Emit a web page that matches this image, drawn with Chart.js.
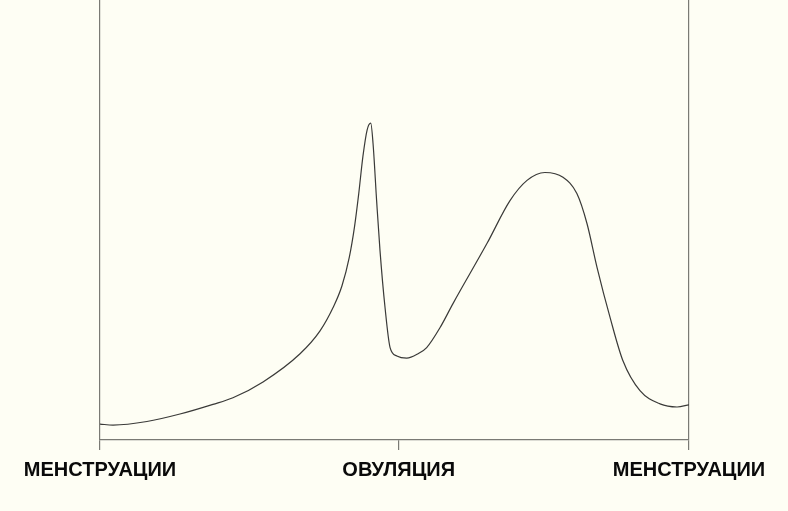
<!DOCTYPE html>
<html>
<head>
<meta charset="utf-8">
<style>
  html, body { margin: 0; padding: 0; background: #fefef4; }
  canvas { display: block; }
</style>
</head>
<body>
<canvas id="myChart" width="788" height="511"></canvas>

<script src="https://cdn.jsdelivr.net/npm/chart.js"></script>
<script>
// cycle day (0..28) and hormone level (0..100, relative)
let cycleDays = [0, 0.62, 2.23, 3.80, 5.37, 6.32, 7.75, 9.51, 10.46, 11.08, 11.50, 11.85, 12.10, 12.30, 12.50, 12.70,
  12.87, 12.98, 13.15, 13.31, 13.55, 13.79, 14.11, 14.58, 15.12, 15.53, 16.16, 16.78, 18.40, 19.49, 20.30,
  21.15, 22.01, 22.67, 23.15, 23.63, 24.25, 24.86, 25.67, 26.62, 27.43, 28];
let levels = [3.6, 3.4, 4.2, 5.9, 8.1, 9.6, 13.2, 19.6, 24.8, 30.1, 35.0, 41.5, 48.5, 56.0, 64.5, 70.5,
  72.0, 67.4, 54.4, 43.1, 30.1, 21.0, 19.1, 18.6, 19.6, 21.0, 25.5, 31.0, 44.7, 54.4, 59.0,
  60.8, 59.7, 56.0, 49.2, 39.2, 27.8, 18.0, 11.2, 8.2, 7.5, 8.0];

let tickDays = [0, 14.2, 28];
let tickLabels = ['МЕНСТРУАЦИИ', 'ОВУЛЯЦИЯ', 'МЕНСТРУАЦИИ'];

let axisColor = '#7a7a74';

let ctx = document.getElementById('myChart').getContext('2d');
let chart = new Chart(ctx, {
    type: 'line',
    data: {
        datasets: [{
            data: cycleDays.map((d, i) => ({ x: d, y: levels[i] })),
            borderColor: '#3a3a38',
            borderWidth: 1.2,
            pointRadius: 0,
            cubicInterpolationMode: 'monotone',
            fill: false
        }]
    },
    options: {
        responsive: false,
        animation: false,
        layout: { padding: { left: 100, right: 99, top: 0, bottom: 21 } },
        plugins: { legend: { display: false }, tooltip: { enabled: false } },
        scales: {
            x: {
                type: 'linear',
                min: 0,
                max: 28,
                afterBuildTicks: (scale) => {
                    scale.ticks = tickDays.map(v => ({ value: v }));
                },
                grid: {
                    color: (c) => (c.tick && c.tick.value === 14.2) ? 'rgba(0,0,0,0)' : axisColor,
                    tickColor: axisColor,
                    tickLength: 10,
                    lineWidth: 1.2
                },
                border: { color: axisColor, width: 1.2 },
                ticks: {
                    padding: 8,
                    maxRotation: 0,
                    autoSkip: false,
                    color: '#0a0a0a',
                    font: { family: 'Liberation Sans', size: 20, weight: 'bold' },
                    callback: (value) => tickLabels[tickDays.indexOf(value)]
                }
            },
            y: {
                display: false,
                min: 0,
                max: 100
            }
        }
    }
});
</script>

</body>
</html>
